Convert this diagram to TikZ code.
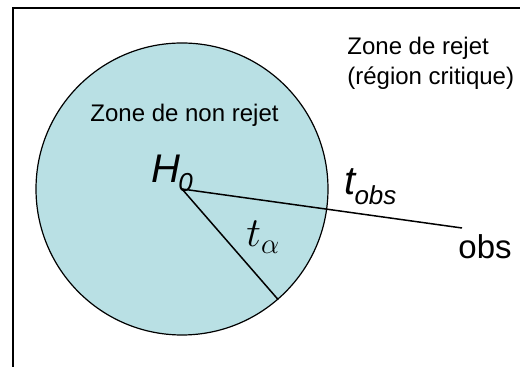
\documentclass[tikz,border=0pt]{standalone}
\usepackage{fontspec}
\setmainfont{Liberation Sans}
\usetikzlibrary{positioning}
\definecolor{zonefill}{RGB}{185,224,228}

\begin{document}
\begin{tikzpicture}[
        x=0.5pt, y=-0.5pt,
        every node/.style={inner sep=0pt, text=black},
        zone/.style={circle, draw, line width=0.6pt, fill=zonefill, minimum size=146pt},
        ray/.style={line width=0.75pt},
        txt/.style={font=\fontsize{12}{15}\selectfont, align=left},
        big/.style={font=\fontsize{20}{24}\selectfont\itshape}
      ]
      \useasboundingbox (0,0) rectangle (520,367);

      % Frame (cut at the right and bottom)
      \draw[line width=1pt] (12.5,367) -- (12.5,8) -- (520,8);

      % Nodes
      \node[zone] (zone) at (182,189) {};
      \coordinate (h0) at (zone.center);
      \coordinate (obsend) at (462,228);
      \node[txt, anchor=base] (nonrejet) at (184.5,122) {Zone de non rejet};
      \node[txt, anchor=north west] (rejet) at (347,37) {Zone de rejet\\(région critique)};
      \node[big, anchor=base west] (hlbl) at (151,183) {H\kern-1pt\raisebox{-4.5pt}{\fontsize{13}{13}\selectfont 0}};
      \node[big, anchor=base west] (tobs) at (344,195) {t\kern-0.5pt\raisebox{-5pt}{\fontsize{13}{13}\selectfont obs}};
      \node[anchor=base west, font=\fontsize{20}{24}\selectfont] (talpha) at (246,247) {$t_\alpha$};
      \node[below right=3pt and -2pt of obsend, font=\fontsize{16.5}{20}\selectfont] (obs) {obs};

      % Edges
      \draw[ray] (h0) -- (obsend);
      \draw[ray] (h0) -- (zone.-49);

    \end{tikzpicture}
\end{document}
